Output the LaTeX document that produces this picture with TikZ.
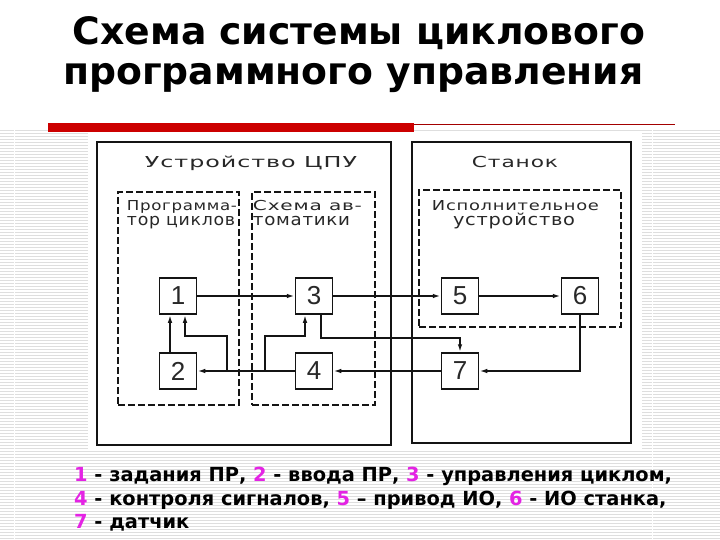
\documentclass[tikz,border=0pt]{standalone}
\usepackage{fontspec}
\setmainfont{DejaVu Sans}
\newfontfamily\drawfont[LetterSpace=4]{DejaVu Sans}
\newfontfamily\digfont{Liberation Sans}
\usetikzlibrary{arrows.meta,calc}
\definecolor{mag}{RGB}{228,35,228}
\definecolor{redbar}{RGB}{204,0,0}
\definecolor{stripe}{RGB}{222,222,222}
\definecolor{ink}{RGB}{20,20,20}
\definecolor{txtgray}{RGB}{40,40,40}
\newcommand{\dtxt}[4]{\resizebox{#1pt}{#2pt}{\drawfont\smash{#4}\vphantom{#3}}}
\begin{document}
\begin{tikzpicture}[x=1pt,y=-1pt,
  numbox/.style={draw=ink,line width=1.5pt,minimum width=37pt,minimum height=36pt,inner sep=0pt,font=\digfont\fontsize{26}{26}\selectfont,text=txtgray},
  outerbox/.style={draw=ink,line width=1.6pt,inner sep=0pt},
  dbox/.style={draw=ink,line width=1.6pt,dash pattern=on 7pt off 3pt,inner sep=0pt},
  conn/.style={draw=ink,line width=2pt},
  arr/.style={conn,-{Latex[length=8pt,width=4.5pt]}},
  lbl/.style={inner sep=0pt,text=txtgray},
  capt/.style={anchor=base west,inner sep=0pt,font=\bfseries\fontsize{19.4}{21}\selectfont}]
\useasboundingbox (0,0) rectangle (720,540);
\fill[white] (0,0) rectangle (720,540);
% background stripes
\foreach \yy in {130,133,...,540} \draw[stripe,line width=0.9pt] (0,\yy) -- (720,\yy);
\draw[white,line width=1pt] (14,130) -- (14,540);
\draw[white,line width=1pt] (652,130) -- (652,540);
% title
\node[anchor=base west,inner sep=0pt,font=\bfseries\fontsize{37.7}{42}\selectfont] (t1) at (72.5,45) {Схема системы циклового};
\node[anchor=base west,inner sep=0pt,font=\bfseries\fontsize{37.7}{42}\selectfont] (t2) at (63,85) {программного управления};
% red bar
\fill[redbar] (48,123) rectangle (414,132);
\draw[redbar!80!black,line width=0.8pt] (414,124.5) -- (675,124.5);
% diagram white area
\fill[white] (88,133) rectangle (642,451);
% outer boxes
\node[outerbox,minimum width=294pt,minimum height=303pt] (cpu) at (244,293.5) {};
\node[outerbox,minimum width=219pt,minimum height=301pt] (stk) at (521.5,292.5) {};
\node[lbl] (cpuL) at (251,162) {\dtxt{212}{11}{Н}{Устройство ЦПУ}};
\node[lbl] (stkL) at (515,162) {\dtxt{86}{11}{Н}{Станок}};
% dashed boxes
\node[dbox,minimum width=121pt,minimum height=213pt] (prg) at (178.5,298.5) {};
\node[dbox,minimum width=123pt,minimum height=213pt] (aut) at (313.5,298.5) {};
\node[dbox,minimum width=202pt,minimum height=137pt] (isp) at (520,258.5) {};
\node[lbl] (prgL1) at (182,206) {\dtxt{110}{10}{Н}{Программа-}};
\node[lbl] (prgL2) at (181,221) {\dtxt{108}{9}{x}{тор циклов}};
\node[lbl] (autL1) at (307.5,206) {\dtxt{109}{10}{Н}{Схема ав-}};
\node[lbl] (autL2) at (301.5,221) {\dtxt{97}{9}{x}{томатики}};
\node[lbl] (ispL1) at (515.5,206) {\dtxt{167}{10}{Н}{Исполнительное}};
\node[lbl] (ispL2) at (514,221) {\dtxt{122}{9}{x}{устройство}};
% numbered boxes
\node[numbox,fill=white] (b1) at (178,296) {1};
\node[numbox,fill=white] (b2) at (178,371) {2};
\node[numbox,fill=white] (b3) at (314,296) {3};
\node[numbox,fill=white] (b4) at (314,371) {4};
\node[numbox,fill=white] (b5) at (460,296) {5};
\node[numbox,fill=white] (b6) at (580,296) {6};
\node[numbox,fill=white] (b7) at (460,371) {7};
% connectors
\draw[arr] (b1.east) -- (b3.west);
\draw[arr] (b3.east) -- (b5.west);
\draw[arr] (b5.east) -- (b6.west);
\draw[arr] (b6.south) |- (b7.east);
\draw[arr] ([xshift=7pt]b3.south) -- ++(0,23) -| (b7.north);
\draw[arr] (b7.west) -- (b4.east);
\draw[arr] (b4.west) -- (b2.east);
\coordinate (j1) at (227,371);
\coordinate (j2) at (265,371);
\draw[arr] (j1) -- ++(0,-35) -| ([xshift=7pt]b1.south);
\draw[arr] (j2) -- ++(0,-35) -| ([xshift=-9pt]b3.south);
\draw[arr] ([xshift=-8pt]b2.north) -- ([xshift=-8pt]b1.south);
% caption
\node[capt] (c1) at (74,481) {{\color{mag}1} - задания ПР, {\color{mag}2} - ввода ПР, {\color{mag}3} - управления циклом,};
\node[capt] (c2) at (74,505) {{\color{mag}4} - контроля сигналов, {\color{mag}5} – привод ИО, {\color{mag}6} - ИО станка,};
\node[capt] (c3) at (74,528.5) {{\color{mag}7} - датчик};
\end{tikzpicture}
\end{document}
